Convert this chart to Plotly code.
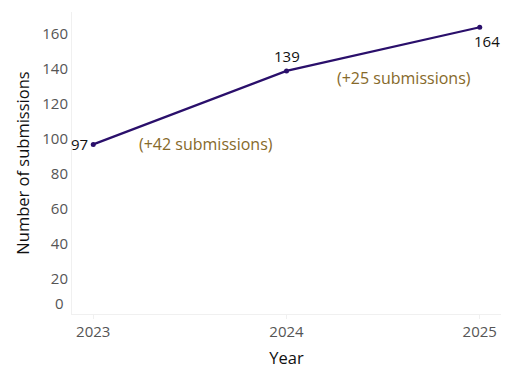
import plotly.graph_objects as go

years = [2023, 2024, 2025]
submissions = [97, 139, 164]
change_text = ["(+42 submissions)", "(+25 submissions)"]
change_x = [2023.585, 2024.61]
change_y = [97.3, 135]
ytick_vals = [20, 40, 60, 80, 100, 120, 140, 160]

FONT = "Open Sans"
fig = go.Figure()
fig.add_trace(go.Scatter(
    x=years, y=submissions, mode="lines+markers",
    line=dict(color="#2a0f6b", width=2.2),
    marker=dict(color="#2a0f6b", size=5),
    cliponaxis=False, showlegend=False, hoverinfo="skip",
))
# data labels
lab_style = [dict(xanchor="right", yanchor="middle", xshift=-3, yshift=0),
             dict(xanchor="center", yanchor="bottom", xshift=0, yshift=3),
             dict(xanchor="center", yanchor="top", xshift=7, yshift=-2)]
for x, y, st in zip(years, submissions, lab_style):
    fig.add_annotation(x=x, y=y, text=str(y), showarrow=False,
                       font=dict(family=FONT, size=15, color="#111"), **st)
for t, x, y in zip(change_text, change_x, change_y):
    fig.add_annotation(x=x, y=y, text=t, showarrow=False,
                       font=dict(family=FONT, size=16, color="#86692a"))
fig.add_annotation(x=0, xref="paper", y=0, yref="y", text="0", showarrow=False,
                   xanchor="right", yanchor="bottom", xshift=-6, yshift=-1,
                   font=dict(family=FONT, size=15, color="#555"))

fig.update_layout(
    width=512, height=384, margin=dict(l=72, r=11, t=12, b=70),
    plot_bgcolor="white", paper_bgcolor="white",
    font=dict(family=FONT),
    xaxis=dict(range=[2022.89, 2025.11], tickvals=years, ticktext=[str(y) for y in years],
               showgrid=False, zeroline=False, showline=True, linecolor="#f0f0f0",
               ticks="outside", tickcolor="#f0f0f0", ticklen=4,
               tickfont=dict(family=FONT, size=15, color="#555"),
               title=dict(text="Year", font=dict(family=FONT, size=16.5, color="#111"), standoff=12)),
    yaxis=dict(range=[0, 172.7], tickvals=ytick_vals, showgrid=False, zeroline=False,
               showline=True, linecolor="#f0f0f0",
               tickfont=dict(family=FONT, size=15, color="#555"),
               title=dict(text="Number of submissions", font=dict(family=FONT, size=16.5, color="#111"), standoff=8)),
)
fig.write_html("out.html")
